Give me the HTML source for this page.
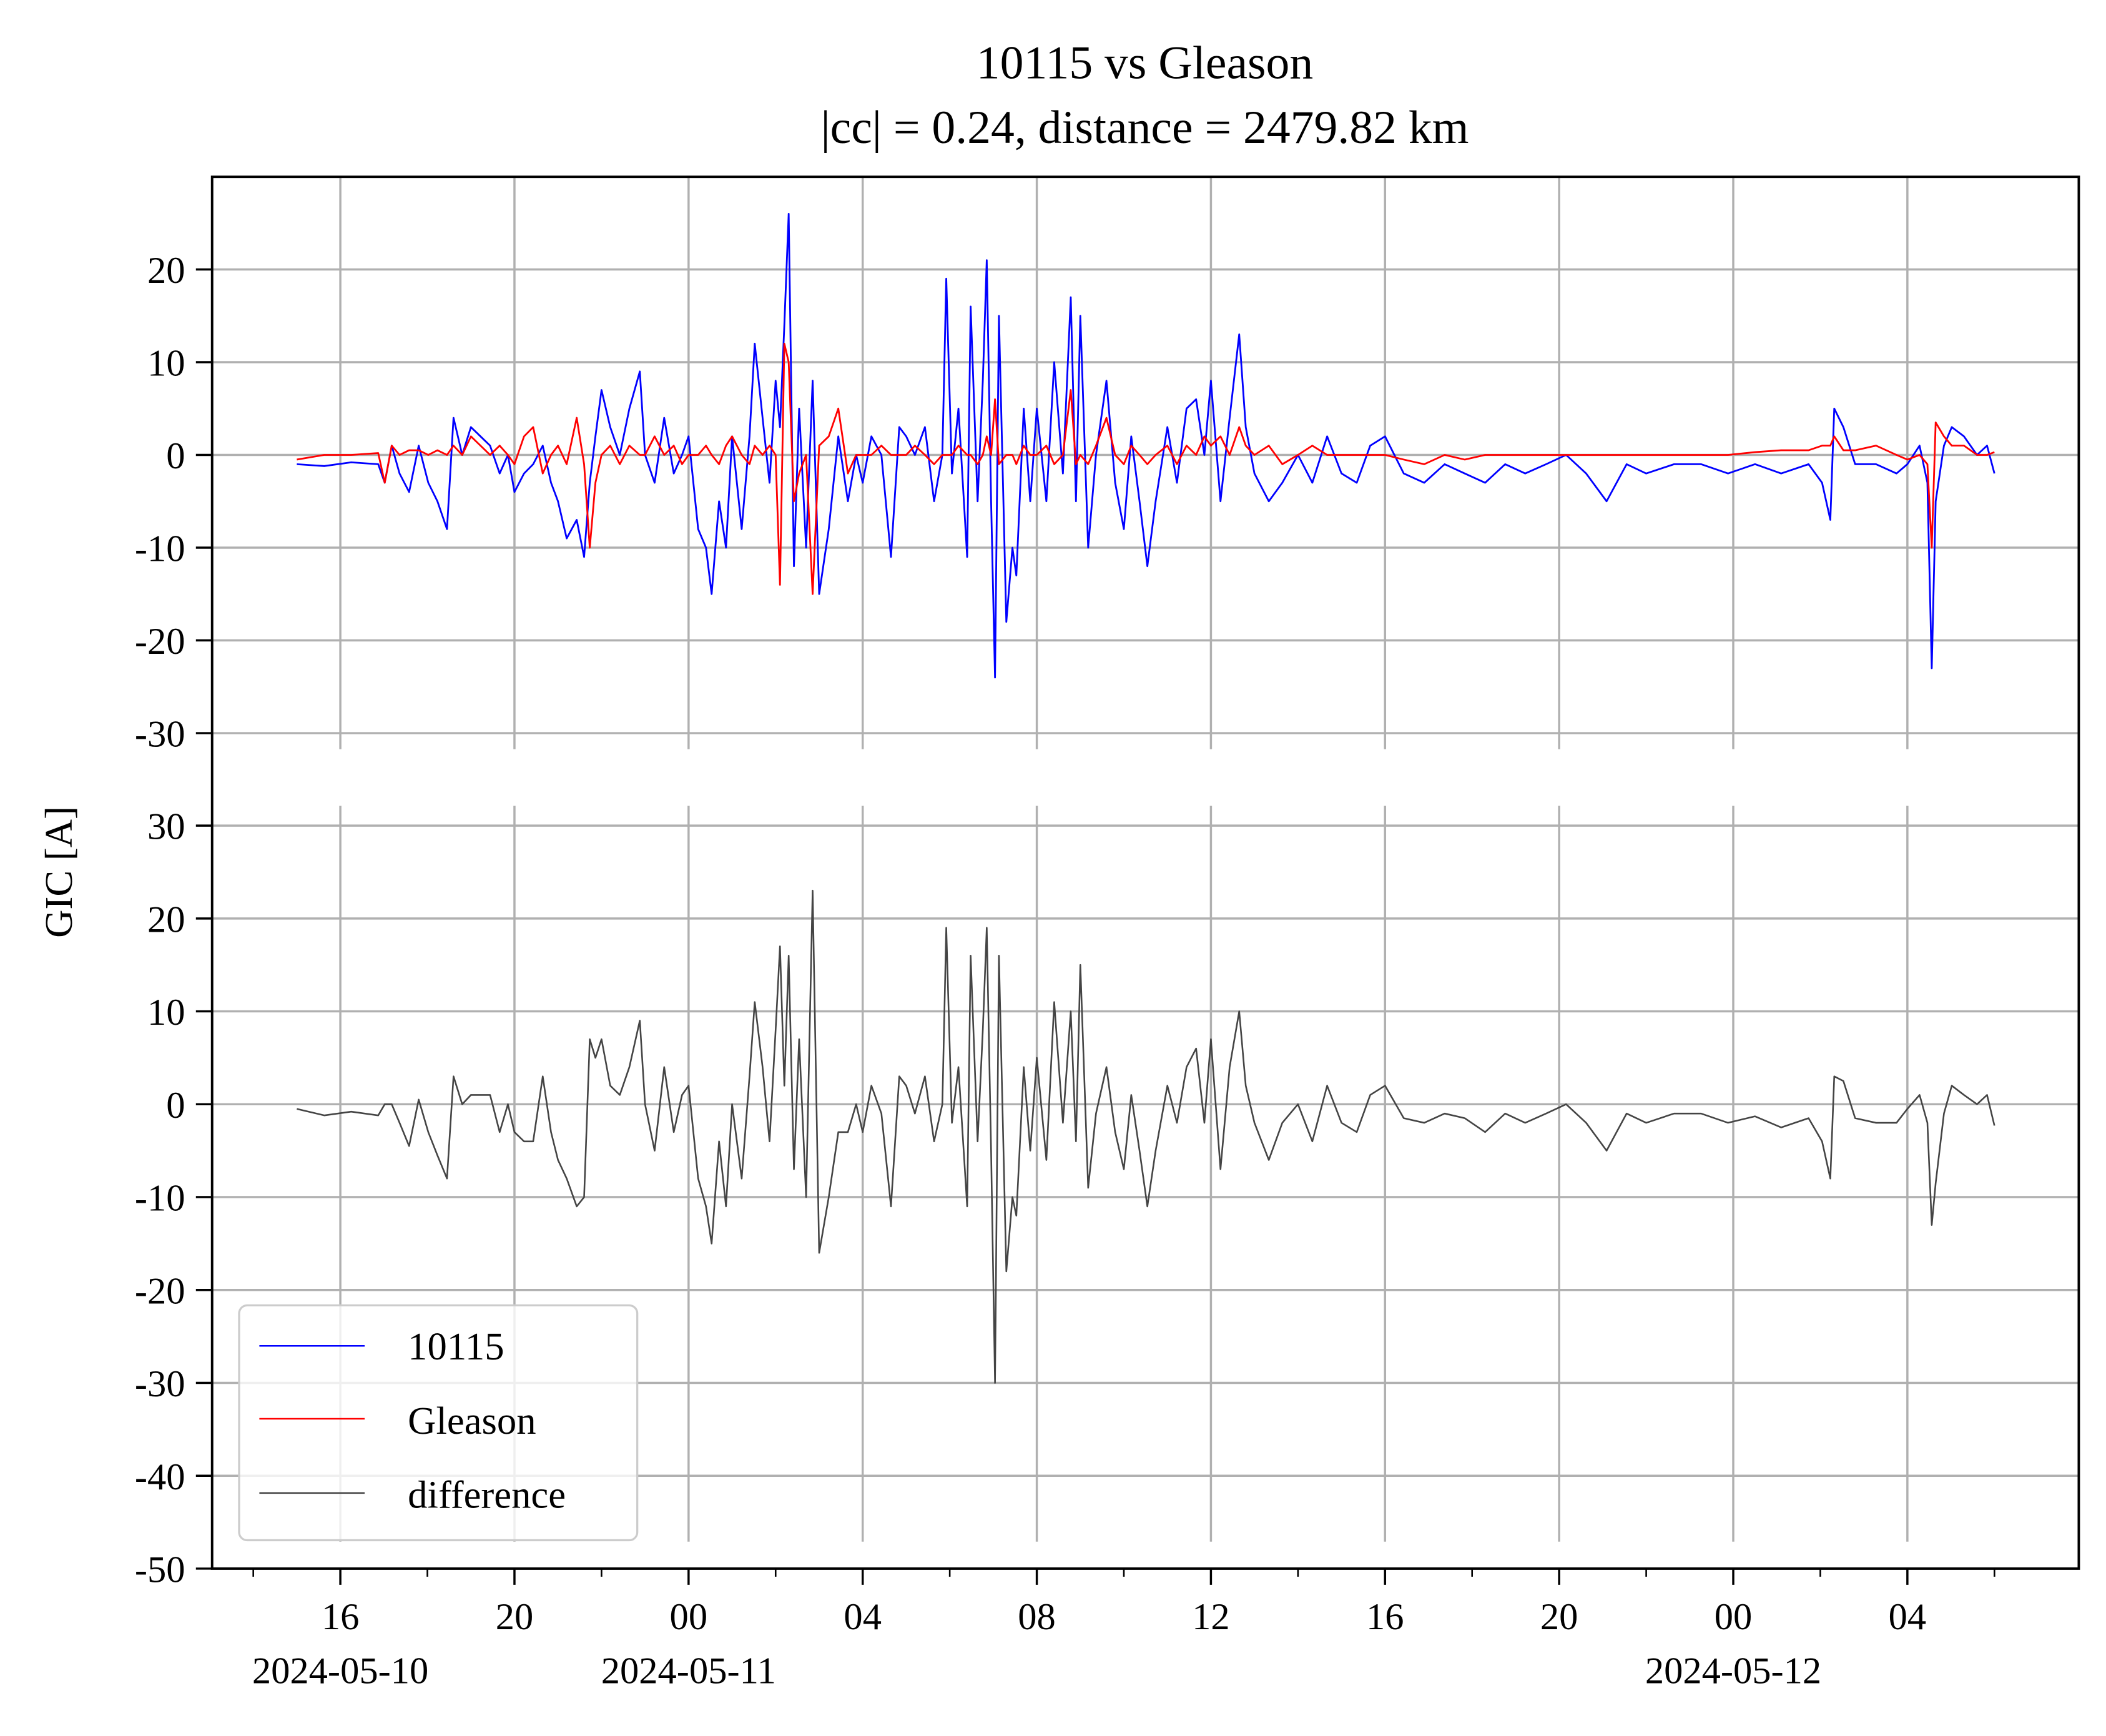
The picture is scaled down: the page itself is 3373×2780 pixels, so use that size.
<!DOCTYPE html>
<html><head><meta charset="utf-8"><style>
html,body{margin:0;padding:0;background:#fff}
svg{display:block}
text{font-family:"Liberation Serif",serif;fill:#000}
</style></head><body>
<svg id="chart" width="3373" height="2780" viewBox="0 0 1560 1286" xmlns="http://www.w3.org/2000/svg">
<rect width="1560" height="1286" fill="#fff"/>
<g id="grid"></g>
<g id="series"></g>
<g id="axes"></g>
<text x="848" y="58" font-size="35" text-anchor="middle">10115 vs Gleason</text>
<text x="848" y="106" font-size="35" text-anchor="middle">|cc| = 0.24, distance = 2479.82 km</text>
<text transform="translate(53,646) rotate(-90)" font-size="29" text-anchor="middle">GIC [A]</text>
<g>
<rect x="177" y="967" width="295" height="174" rx="6" fill="#fff" fill-opacity="0.8" stroke="#ccc" stroke-width="1.5"/>
<g><line x1="192" y1="997" x2="270" y2="997" stroke="#0000ff" stroke-width="1.2"/><text x="302" y="1007" font-size="29">10115</text></g>
<g><line x1="192" y1="1051" x2="270" y2="1051" stroke="#ff0000" stroke-width="1.2"/><text x="302" y="1062" font-size="29">Gleason</text></g>
<g><line x1="192" y1="1106" x2="270" y2="1106" stroke="#444" stroke-width="1.2"/><text x="302" y="1117" font-size="29">difference</text></g>
</g>
</svg>
<script>
// hours since 2024-05-10 00:00
const times = [15.0,15.63,16.25,16.87,17.02,17.18,17.36,17.58,17.8,18.02,18.23,18.45,18.6,18.8,19.0,19.22,19.44,19.66,19.85,20.0,20.22,20.43,20.65,20.84,21.0,21.2,21.43,21.6,21.73,21.86,22.0,22.2,22.42,22.64,22.88,23.0,23.22,23.44,23.66,23.85,24.0,24.22,24.4,24.53,24.7,24.86,25.0,25.22,25.4,25.52,25.7,25.86,26.0,26.1,26.2,26.3,26.42,26.54,26.7,26.85,27.0,27.22,27.44,27.66,27.85,28.0,28.2,28.43,28.65,28.84,29.0,29.2,29.43,29.64,29.83,29.92,30.05,30.2,30.4,30.48,30.64,30.76,30.85,30.95,31.04,31.13,31.3,31.44,31.53,31.7,31.85,32.0,32.22,32.4,32.6,32.78,32.9,33.0,33.18,33.36,33.6,33.8,34.0,34.17,34.36,34.54,34.73,35.0,35.22,35.44,35.66,35.85,36.0,36.22,36.43,36.65,36.8,37.0,37.33,37.64,38.0,38.33,38.67,39.0,39.35,39.66,40.0,40.43,40.9,41.37,41.83,42.3,42.76,43.22,43.7,44.16,44.62,45.09,45.55,46.0,46.64,47.26,47.88,48.5,49.1,49.73,50.04,50.23,50.32,50.53,50.8,51.28,51.75,52.0,52.28,52.46,52.56,52.65,52.84,53.02,53.3,53.6,53.83,54.0];
const blueValues = [-1,-1.2,-0.8,-1,-3,1,-2,-4,1,-3,-5,-8,4,0,3,2,1,-2,0,-4,-2,-1,1,-3,-5,-9,-7,-11,-3,2,7,3,0,5,9,0,-3,4,-2,0,2,-8,-10,-15,-5,-10,2,-8,2,12,4,-3,8,3,14,26,-12,5,-10,8,-15,-8,2,-5,0,-3,2,0,-11,3,2,0,3,-5,0,19,-2,5,-11,16,-5,8,21,-5,-24,15,-18,-10,-13,5,-5,5,-5,10,-2,17,-5,15,-10,0,8,-3,-8,2,-5,-12,-5,3,-3,5,6,0,8,-5,4,13,3,-2,-5,-3,0,-3,2,-2,-3,1,2,-2,-3,-1,-2,-3,-1,-2,-1,0,-2,-5,-1,-2,-1,-1,-2,-1,-2,-1,-3,-7,5,3,-1,-1,-2,-1,1,-3,-23,-5,1,3,2,0,1,-2];
const redValues = [-0.5,0,0,0.2,-3,1,0,0.5,0.5,0,0.5,0,1,0,2,1,0,1,0,-1,2,3,-2,0,1,-1,4,-1,-10,-3,0,1,-1,1,0,0,2,0,1,-1,0,0,1,0,-1,1,2,0,-1,1,0,1,0,-14,12,10,-5,-2,0,-15,1,2,5,-2,0,0,0,1,0,0,0,1,0,-1,0,0,0,1,0,0,-1,0,2,0,6,-1,0,0,-1,1,0,0,1,-1,0,7,-1,0,-1,1,4,0,-1,1,0,-1,0,1,-1,1,0,2,1,2,0,3,1,0,1,-1,0,1,0,0,0,0,0,-0.5,-1,0,-0.5,0,0,0,0,0,0,0,0,0,0,0,0,0.3,0.5,0.5,1,1,2,0.5,0.5,1,0,-0.5,0,-1,-10,3.5,2,1,1,0,0,0.3];
const yTicksTop = [20,10,0,-10,-20,-30];
const yTicksBottom = [30,20,10,0,-10,-20,-30,-40,-50];
const xMajorHours = [16,20,24,28,32,36,40,44,48,52];
const xMajorLabels = ["16","20","00","04","08","12","16","20","00","04"];
const xMinorHours = [14,18,22,26,30,34,38,42,46,50,54];
const dateLabels = ["2024-05-10","2024-05-11","2024-05-12"];
const dateHours = [16,24,48];

const NS="http://www.w3.org/2000/svg";
const L=157,R=1540,T=131,B=1162;
const x=t=>252+(t-16)*32.25;
const yTop=v=>337-v*6.87;
const yBot=v=>818-v*6.88;
function mk(tag,attrs,parent){const e=document.createElementNS(NS,tag);for(const k in attrs)e.setAttribute(k,attrs[k]);parent.appendChild(e);return e;}
const grid=document.getElementById('grid'),axes=document.getElementById('axes'),series=document.getElementById('series');

yTicksTop.forEach(v=>{
 const g=mk('line',{x1:L,x2:R,y1:yTop(v),y2:yTop(v),stroke:'#b0b0b0','stroke-width':1.6},grid);
 
 
 const tk=mk('line',{x1:L-12,x2:L,y1:yTop(v),y2:yTop(v),stroke:'#000','stroke-width':1.6},axes);
 
 
 const tx=mk('text',{x:L-20,y:yTop(v)+10,'font-size':28,'text-anchor':'end'},axes);
 tx.textContent=v;
 
 
});
yTicksBottom.forEach(v=>{
 const g=mk('line',{x1:L,x2:R,y1:yBot(v),y2:yBot(v),stroke:'#b0b0b0','stroke-width':1.6},grid);
 
 
 const tk=mk('line',{x1:L-12,x2:L,y1:yBot(v),y2:yBot(v),stroke:'#000','stroke-width':1.6},axes);
 
 
 const tx=mk('text',{x:L-20,y:yBot(v)+10,'font-size':28,'text-anchor':'end'},axes);
 tx.textContent=v;
 
 
});
xMajorHours.forEach((h,i)=>{
 const g1=mk('line',{x1:x(h),x2:x(h),y1:T,y2:555,stroke:'#b0b0b0','stroke-width':1.6},grid);
 
 
 const g2=mk('line',{x1:x(h),x2:x(h),y1:597,y2:1142,stroke:'#b0b0b0','stroke-width':1.6},grid);
 
 
 const tk=mk('line',{x1:x(h),x2:x(h),y1:B,y2:B+12,stroke:'#000','stroke-width':1.6},axes);
 
 
 const tx=mk('text',{x:x(h),y:1207,'font-size':28,'text-anchor':'middle'},axes);
 tx.textContent=xMajorLabels[i];
 
 
});
xMinorHours.forEach(h=>{
 const tk=mk('line',{x1:x(h),x2:x(h),y1:B,y2:B+6,stroke:'#000','stroke-width':1.2},axes);
 
 
});
dateHours.forEach((h,i)=>{
 const tx=mk('text',{x:x(h),y:1247,'font-size':28,'text-anchor':'middle'},axes);
 tx.textContent=dateLabels[i];
 
 
});
const frame=mk('rect',{x:L,y:T,width:R-L,height:B-T,fill:'none',stroke:'#000','stroke-width':1.8},axes);



function path(vals,yf,color,w,name){
 const d=vals.map((v,i)=>(i?'L':'M')+x(times[i]).toFixed(2)+','+yf(v).toFixed(2)).join('');
 const p=mk('path',{d:d,fill:'none',stroke:color,'stroke-width':w,'stroke-linejoin':'round'},series);
 
 
}
path(blueValues,yTop,'#0000ff',1.3,'line-10115');
path(redValues,yTop,'#ff0000',1.3,'line-gleason');
const diffValues=blueValues.map((v,i)=>v-redValues[i]);
path(diffValues,yBot,'#444444',1.2,'line-difference');
</script>
</body></html>
